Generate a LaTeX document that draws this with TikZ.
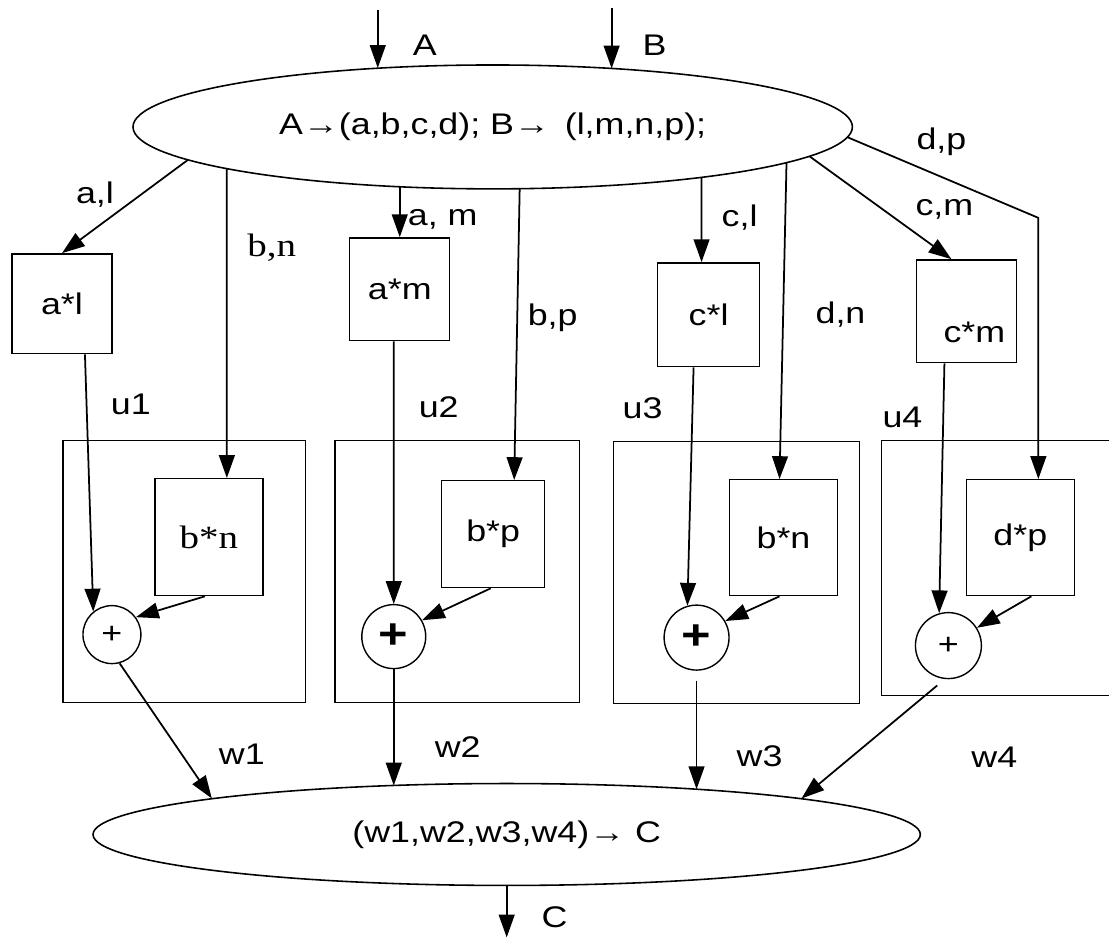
\documentclass[tikz,border=0pt]{standalone}
\usepackage{fontspec}
\setmainfont{Liberation Sans}[FakeStretch=1.2]
\newfontfamily\serifbn{Liberation Serif}[FakeStretch=1.2]
\usetikzlibrary{arrows.meta,shapes.geometric,calc}

\begin{document}
\begin{tikzpicture}[x=0.02cm,y=-0.02cm,
  every node/.style={font=\fontsize{17}{19}\selectfont},
  ov/.style={draw,ellipse,line width=.9pt,inner sep=0pt},
  bx/.style={draw,line width=.8pt,inner sep=0pt},
  unit/.style={draw,line width=.8pt,inner sep=0pt},
  pl/.style={draw,circle,line width=.8pt,inner sep=0pt},
  big/.style={font=\fontsize{24}{24}\selectfont\bfseries},
  tag/.style={inner sep=0pt},
  srf/.style={font=\serifbn\fontsize{18.5}{20}\selectfont},
  arr/.style={-{Triangle[length=13pt,width=9pt]},line width=1pt}]
\fill[white] (0,0) rectangle (1110,940);

% split and merge
\node[ov,minimum width=14.4cm,minimum height=2.48cm] (split) at (493,127) {A→(a,b,c,d); B→\enspace(l,m,n,p);};
\node[ov,minimum width=16.56cm,minimum height=2.04cm] (merge) at (507,835) {(w1,w2,w3,w4)→ C};

% units
\node[unit,minimum width=4.86cm,minimum height=5.24cm] (u1) at (184.5,572) {};
\node[unit,minimum width=4.9cm,minimum height=5.24cm] (u2) at (457.5,572) {};
\node[unit,minimum width=4.92cm,minimum height=5.24cm] (u3) at (737,573) {};
\draw[line width=.8pt] (1110,441) -| (882,696) -- (1110,696);

% products
\node[bx,minimum width=2cm,minimum height=2cm] (al) at (62,304) {a*l};
\node[bx,minimum width=2cm,minimum height=2.06cm] (am) at (400,289.5) {a*m};
\node[bx,minimum width=2.04cm,minimum height=2.08cm] (cl) at (709,315) {c*l};
\node[bx,minimum width=2cm,minimum height=2.06cm,label={[tag,xshift=.16cm,yshift=-.42cm]center:c*m}] (cm) at (967,311.5) {};
\node[bx,srf,minimum width=2.16cm,minimum height=2.34cm] (bn1) at (209,537.5) {b*n};
\node[bx,minimum width=2.06cm,minimum height=2.14cm] (bp) at (493.5,534.5) {b*p};
\node[bx,minimum width=2.16cm,minimum height=2.32cm] (bn3) at (784,538) {b*n};
\node[bx,minimum width=2.16cm,minimum height=2.32cm] (dp) at (1021,538) {d*p};

% adders
\node[pl,minimum size=1.16cm] (p1) at (112,635) {+};
\node[pl,big,minimum size=1.28cm] (p2) at (394,637) {+};
\node[pl,big,minimum size=1.3cm] (p3) at (697,638) {+};
\node[pl,minimum size=1.32cm] (p4) at (949,646) {+};

\coordinate (inA) at (378,10);
\coordinate (inB) at (612,8);
\coordinate (dpc) at (1039,218);
\coordinate (outC) at (507,938);

% inputs
\draw[arr] (inA) -- ($(split.center)+(-115,-59)$);
\draw[arr] (inB) -- ($(split.center)+(119,-58.5)$);
\node[tag] (lA) at (425,45) {A};
\node[tag] (lB) at (655,45) {B};

% fan out
\draw[arr] ($(split.center)+(-305,33)$) -- (al.north);
\draw[arr] ($(split.center)+(-266,42)$) -- ([xshift=.36cm]bn1.north);
\draw[arr] ($(split.center)+(-93,60)$) -- (am.north);
\draw[arr] ($(split.center)+(27,62)$) -- ([xshift=.42cm]bp.north);
\draw[arr] ($(split.center)+(209,50.5)$) -- ([xshift=-.14cm]cl.north);
\draw[arr] ($(split.center)+(294,36)$) -- ([xshift=-.08cm]bn3.north);
\draw[arr] ($(split.center)+(317,29.4)$) -- ([xshift=-.3cm]cm.north);
\draw[arr] ($(split.center)+(355,10.3)$) -- (dpc) -- ([xshift=.36cm]dp.north);
\node[tag] (lal) at (95,195) {a,l};
\node[tag,srf] (lbn) at (272,248) {b,n};
\node[tag] (lam) at (443,220) {a, m};
\node[tag] (lbp) at (553,318) {b,p};
\node[tag] (lcl) at (740,218) {c,l};
\node[tag] (ldn) at (841,315) {d,n};
\node[tag] (lcm) at (945,210) {c,m};
\node[tag] (ldp) at (942,142) {d,p};

% sums
\draw[arr] ([xshift=.46cm]al.south) -- (p1.129);
\draw[arr] ([xshift=-.08cm]bn1.south) -- (p1.36);
\draw[arr] ([xshift=-.12cm]am.south) -- (p2.north);
\draw[arr] ([xshift=-.05cm]bp.south) -- (p2.30);
\draw[arr] ([xshift=-.3cm]cl.south) -- (p3.106);
\draw[arr] ([xshift=-.08cm]bn3.south) -- (p3.30);
\draw[arr] ([xshift=-.44cm]cm.south) -- (p4.106);
\draw[arr] ([xshift=.22cm]dp.south) -- (p4.32);
\node[tag] (lu1) at (131,405) {u1};
\node[tag] (lu2) at (439,407) {u2};
\node[tag] (lu3) at (643,408) {u3};
\node[tag] (lu4) at (903,418) {u4};

% outputs
\draw[arr] (p1.-75) -- ($(merge.center)+(-295,-36)$);
\draw[arr] (p2.south) -- ($(merge.center)+(-113,-49)$);
\draw[arr,shorten <=.2cm] (p3.south) -- ($(merge.center)+(190,-45.3)$);
\draw[arr,shorten <=.2cm] (p4.-96) -- ($(merge.center)+(295,-36)$);
\draw[arr] (merge.south) -- (outC);
\node[tag] (lw1) at (242,755) {w1};
\node[tag] (lw2) at (458,748) {w2};
\node[tag] (lw3) at (760,757) {w3};
\node[tag] (lw4) at (995,758) {w4};
\node[tag] (lC) at (555,918) {C};
\end{tikzpicture}
\end{document}
